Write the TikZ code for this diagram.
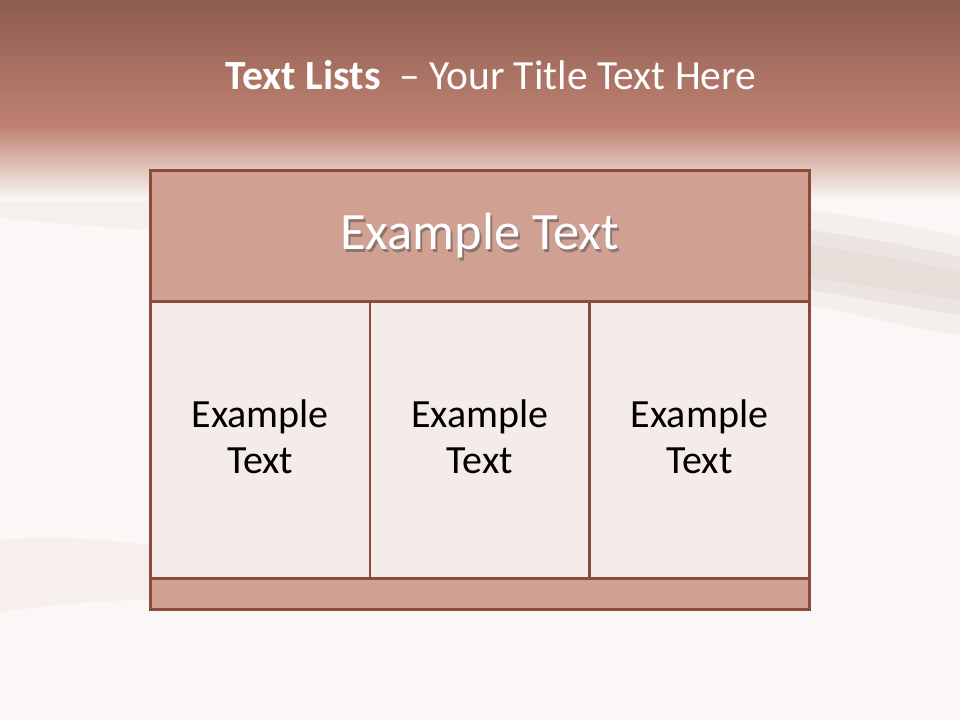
\documentclass[tikz,border=0pt]{standalone}
\usepackage{fontspec}
\setmainfont{Carlito}
\definecolor{bgc}{HTML}{FBF7F6}
\definecolor{bandtop}{HTML}{8C5C50}
\definecolor{bandbot}{HTML}{C08373}
\definecolor{edgec}{HTML}{8A4B3D}
\definecolor{headc}{HTML}{D0A092}
\definecolor{cellc}{HTML}{F5ECEA}
\definecolor{streak}{HTML}{DCCDC8}
\definecolor{streakb}{HTML}{EBDDD3}
\tikzset{
  boxline/.style={draw=edgec, line width=2.6pt},
  headbox/.style={boxline, fill=headc},
  cellbox/.style={boxline, fill=cellc},
  celltext/.style={font=\fontsize{40}{46}\selectfont, text=black, align=center},
}
\begin{document}
\begin{tikzpicture}[x=1pt,y=-1pt]
\useasboundingbox (0,0) rectangle (960,720);
% background
\fill[bgc] (0,0) rectangle (960,720);
% soft streaks
\fill[streak, opacity=0.2] (810,210) .. controls (880,220) and (930,230) .. (960,236) -- (960,335) .. controls (920,330) and (860,315) .. (810,305) -- cycle;
\fill[streak, opacity=0.3] (810,230) .. controls (880,240) and (930,250) .. (960,257) -- (960,315) .. controls (920,310) and (860,297) .. (810,290) -- cycle;
\fill[streak, opacity=0.3] (810,245) .. controls (880,255) and (930,265) .. (960,272) -- (960,300) .. controls (920,295) and (860,284) .. (810,278) -- cycle;
\fill[streakb, opacity=0.3] (0,540) .. controls (60,535) and (110,540) .. (149,545) -- (149,600) .. controls (100,600) and (50,605) .. (0,612) -- cycle;
\fill[streakb, opacity=0.25] (0,180) .. controls (60,185) and (110,188) .. (149,190) -- (149,230) .. controls (100,228) and (50,222) .. (0,218) -- cycle;
% title band
\shade[top color=bandtop, bottom color=bandbot] (0,0) rectangle (960,128);
\shade[top color=bandbot, bottom color=bgc] (0,127) rectangle (960,200);
% title
\node[text=white, font=\fontsize{41.5}{48}\selectfont] (title) at (491,75)
  {\textbf{Text Lists}\ \ – Your Title Text Here};
% boxes
\node[headbox, minimum width=659pt, minimum height=131pt, anchor=north west, inner sep=0pt] (head) at (149,169) {};
\node[cellbox, minimum width=219.7pt, minimum height=277pt, anchor=north west, inner sep=0pt] (c1) at (149,300) {};
\node[cellbox, minimum width=219.7pt, minimum height=277pt, anchor=north west, inner sep=0pt] (c2) at (368.7,300) {};
\node[cellbox, minimum width=219.7pt, minimum height=277pt, anchor=north west, inner sep=0pt] (c3) at (588.3,300) {};
\node[headbox, minimum width=659pt, minimum height=31pt, anchor=north west, inner sep=0pt] (foot) at (149,577) {};
% header text with shadow
\node[text=black!70, opacity=0.5, font=\fontsize{52.5}{60}\selectfont] (headshadow) at ([xshift=2pt,yshift=-2.5pt]head.center) {Example Text};
\node[text=white, font=\fontsize{52.5}{60}\selectfont] (headtext) at (head.center) {Example Text};
% cell texts
\node[celltext] (t1) at ([yshift=3pt]c1.center) {Example\\Text};
\node[celltext] (t2) at ([yshift=3pt]c2.center) {Example\\Text};
\node[celltext] (t3) at ([yshift=3pt]c3.center) {Example\\Text};
\end{tikzpicture}
\end{document}
